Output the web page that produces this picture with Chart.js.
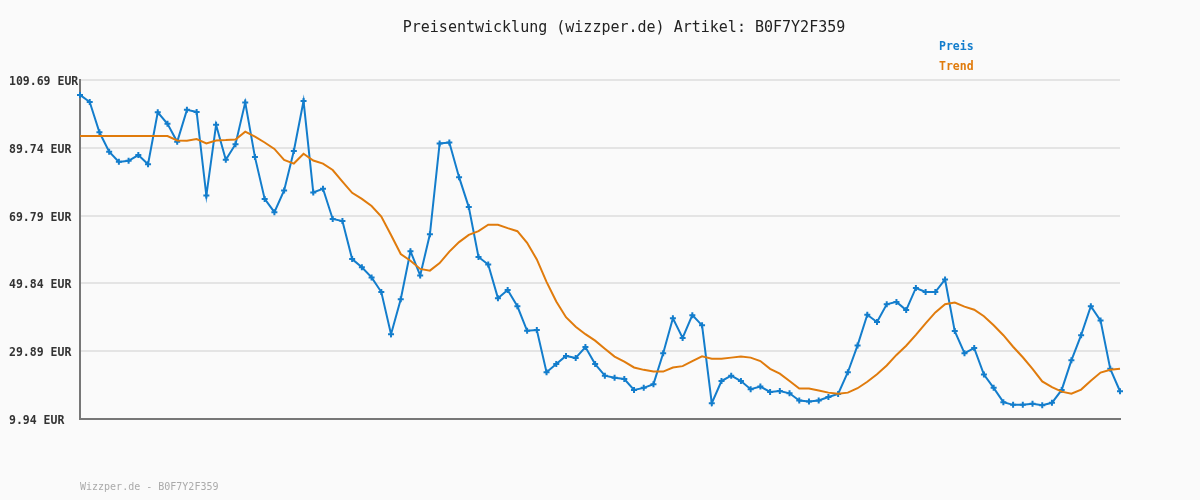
<!DOCTYPE html>
<html lang="de">
<head>
    <meta charset="UTF-8">
    <title>Preisentwicklung B0F7Y2F359</title>
    <script src="https://cdn.jsdelivr.net/npm/chart.js@4.4.1/dist/chart.umd.min.js"></script>
    <style>
        body {
            margin: 0;
            background-color: #fafafa;
        }
        #priceChart {
            display: block;
        }
    </style>
</head>
<body>
    <canvas id="priceChart" width="1200" height="500"></canvas>

    <script>
        // Price per observation (EUR)
        const preis = [
            105.3, 103.2, 94.3, 88.6, 85.6, 85.9, 87.6, 84.9, 100.2, 96.8,
            91.5, 100.9, 100.3, 75.7, 96.5, 86.2, 90.8, 103.1, 87.0, 74.7,
            70.8, 77.2, 88.8, 103.5, 76.6, 77.7, 68.8, 68.2, 57.0, 54.6,
            51.6, 47.3, 34.9, 45.2, 59.3, 52.2, 64.3, 91.0, 91.3, 81.1,
            72.3, 57.6, 55.4, 45.5, 47.9, 43.1, 35.9, 36.1, 23.7, 26.1,
            28.5, 27.9, 31.1, 26.1, 22.7, 22.1, 21.7, 18.5, 19.1, 20.2,
            29.3, 39.6, 33.8, 40.5, 37.5, 14.6, 21.1, 22.7, 21.1, 18.7,
            19.5, 17.9, 18.2, 17.5, 15.4, 15.1, 15.4, 16.4, 17.3, 23.7,
            31.6, 40.6, 38.5, 43.7, 44.4, 42.0, 48.5, 47.3, 47.3, 51.0,
            35.8, 29.3, 30.8, 23.0, 19.1, 14.9, 14.1, 14.1, 14.4, 14.0,
            14.7, 18.5, 27.2, 34.6, 43.1, 38.9, 24.7, 18.1
        ];

        // Trend line (EUR)
        const trend = [
            93.2, 93.2, 93.2, 93.2, 93.2, 93.2, 93.2, 93.2, 93.2, 93.2,
            91.9, 91.8, 92.3, 91.0, 91.9, 92.0, 92.2, 94.5, 93.0, 91.3,
            89.4, 86.2, 85.1, 88.0, 86.0, 85.1, 83.2, 79.8, 76.5, 74.7,
            72.6, 69.5, 64.1, 58.5, 56.5, 54.1, 53.6, 55.8, 59.2, 62.0,
            64.1, 65.2, 67.1, 67.1, 66.1, 65.2, 61.8, 56.9, 50.3, 44.5,
            39.9, 37.1, 34.9, 33.0, 30.6, 28.3, 26.8, 25.1, 24.4, 23.9,
            23.9, 25.1, 25.5, 27.0, 28.4, 27.7, 27.7, 28.0, 28.3, 28.0,
            27.0, 24.7, 23.3, 21.1, 18.9, 18.9, 18.3, 17.7, 17.4, 17.7,
            19.0, 20.9, 23.1, 25.7, 28.8, 31.5, 34.7, 38.1, 41.3, 43.7,
            44.2, 43.0, 42.1, 40.2, 37.5, 34.6, 31.2, 28.1, 24.7, 21.0,
            19.3, 18.0, 17.4, 18.6, 21.2, 23.6, 24.4, 24.7
        ];

        const labels = preis.map((_, i) => i + 1);
        const yTicks = [9.94, 29.89, 49.84, 69.79, 89.74, 109.69];

        const blue = '#137dcc';
        const orange = '#e07b0c';
        const mono = '"DejaVu Sans Mono", "Liberation Mono", monospace';

        // Background, title, legend and footer
        const decorations = {
            id: 'decorations',
            beforeDraw(chart) {
                const ctx = chart.ctx;
                ctx.save();
                ctx.fillStyle = '#fafafa';
                ctx.fillRect(0, 0, chart.width, chart.height);
                ctx.restore();
            },
            afterDraw(chart) {
                const ctx = chart.ctx;
                ctx.save();
                ctx.textBaseline = 'middle';

                ctx.fillStyle = '#222';
                ctx.font = '15px ' + mono;
                ctx.textAlign = 'center';
                ctx.fillText('Preisentwicklung (wizzper.de) Artikel: B0F7Y2F359', 624, 28);

                ctx.textAlign = 'left';
                ctx.font = 'bold 11.5px ' + mono;
                ctx.fillStyle = blue;
                ctx.fillText('Preis', 939, 47);
                ctx.fillStyle = orange;
                ctx.fillText('Trend', 939, 67);

                ctx.font = '10px ' + mono;
                ctx.fillStyle = '#aaa';
                ctx.fillText('Wizzper.de - B0F7Y2F359', 80, 487);
                ctx.restore();
            }
        };

        const ctx = document.getElementById('priceChart').getContext('2d');
        new Chart(ctx, {
            type: 'line',
            data: {
                labels: labels,
                datasets: [
                    {
                        label: 'Trend',
                        data: trend,
                        borderColor: orange,
                        borderWidth: 2,
                        pointRadius: 0,
                        tension: 0
                    },
                    {
                        label: 'Preis',
                        data: preis,
                        borderColor: blue,
                        backgroundColor: blue,
                        borderWidth: 2,
                        pointStyle: 'cross',
                        pointRadius: 3,
                        pointBorderWidth: 2,
                        tension: 0
                    }
                ]
            },
            options: {
                responsive: false,
                animation: false,
                layout: {
                    padding: { left: 9, top: 80, right: 80, bottom: 81 }
                },
                plugins: {
                    legend: { display: false },
                    title: { display: false },
                    tooltip: { enabled: false }
                },
                scales: {
                    x: {
                        offset: false,
                        grid: { display: false, drawTicks: false },
                        border: { display: true, color: '#777', width: 2 },
                        ticks: { display: false },
                        afterFit: s => { s.height = 0; }
                    },
                    y: {
                        min: yTicks[0],
                        max: yTicks[yTicks.length - 1],
                        afterBuildTicks: s => { s.ticks = yTicks.map(v => ({ value: v })); },
                        grid: { color: '#e4e4e4', lineWidth: 2, drawTicks: false },
                        border: { color: '#777', width: 2 },
                        ticks: {
                            crossAlign: 'far',
                            padding: 0,
                            labelOffset: 2,
                            color: '#333',
                            font: { family: mono, size: 11.5, weight: 'bold' },
                            callback: v => v.toFixed(2) + ' EUR'
                        },
                        afterFit: s => { s.width = 71; }
                    }
                }
            },
            plugins: [decorations]
        });
    </script>
</body>
</html>
